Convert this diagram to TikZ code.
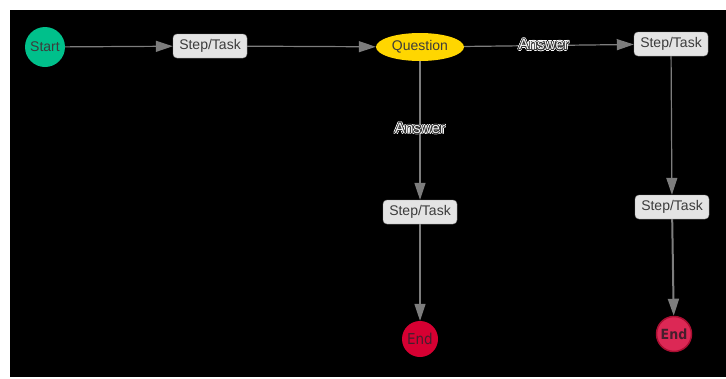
\documentclass[tikz,border=0pt]{standalone}
\usepackage{fontspec}
\setmainfont{Liberation Sans}
\newfontfamily\condfont{DejaVu Sans Condensed}
\usepackage{contour}
\usetikzlibrary{arrows.meta,shapes.geometric}

\definecolor{startgreen}{RGB}{0,192,139}
\definecolor{endred}{RGB}{214,0,50}
\definecolor{endredb}{RGB}{220,40,85}
\definecolor{endrim}{RGB}{170,15,50}
\definecolor{qgold}{RGB}{255,214,0}
\definecolor{boxfill}{RGB}{228,228,228}
\definecolor{boxline}{RGB}{150,150,150}
\definecolor{edgegray}{RGB}{125,125,125}
\definecolor{labeltext}{RGB}{60,60,60}
\definecolor{endtext}{RGB}{70,30,45}

% outlined edge label: white halo, dark rim, pale fill
\newcommand{\halolabel}[1]{%
  \makebox[0pt]{{\contourlength{1.4pt}\contour{white}{\textcolor{white}{#1}}}}%
  \makebox[0pt]{{\contourlength{0.7pt}\contour{black!80}{\textcolor{gray!12}{#1}}}}}

\tikzset{
  flowedge/.style={draw=edgegray, line width=1.2pt,
    -{Triangle[length=17pt,width=11pt]}},
  taskbox/.style={draw=boxline, fill=boxfill, rounded corners=4pt,
    minimum width=74pt, minimum height=24pt, inner sep=0pt,
    text=labeltext, font=\fontsize{14}{15}\selectfont},
  startnode/.style={circle, fill=startgreen, minimum size=40pt, inner sep=0pt,
    text=labeltext, font=\fontsize{14}{15}\selectfont},
  questionnode/.style={ellipse, fill=qgold, minimum width=88pt,
    minimum height=28pt, inner sep=0pt, text=labeltext,
    font=\fontsize{14}{15}\selectfont},
  endnode/.style={circle, fill=endred, minimum size=36pt, inner sep=0pt,
    text=endtext, font=\condfont\fontsize{15}{16}\selectfont},
  endnodebold/.style={circle, fill=endredb, draw=endrim, line width=1.5pt,
    minimum size=35pt, inner sep=0pt, text=endtext,
    font=\condfont\bfseries\fontsize{14}{15}\selectfont},
  edgelabel/.style={font=\fontsize{15}{16}\selectfont, inner sep=0pt}
}

\begin{document}
\begin{tikzpicture}[x=1pt,y=-1pt]
  \useasboundingbox (0,0) rectangle (726,378);
  \fill[white] (0,0) rectangle (726,378);
  \fill[black] (10,10) rectangle (726,377);

  % nodes
  \node[startnode]    (start) at (45,47)  {Start};
  \node[taskbox]      (t1)    at (210,46) {Step/Task};
  \node[questionnode] (q)     at (420,47) {Question};
  \node[taskbox]      (t2)    at (671,44) {Step/Task};
  \node[taskbox]      (t3)    at (420,212) {Step/Task};
  \node[taskbox]      (t4)    at (672,207) {Step/Task};
  \node[endnode]      (e1)    at (420,339) {End};
  \node[endnodebold]  (e2)    at (674,334) {End};

  % connectors
  \draw[flowedge] (start) -- (t1);
  \draw[flowedge] (t1) -- (q);
  \draw[flowedge] (q) -- node[edgelabel, pos=0.47] {\halolabel{Answer}} (t2);
  \draw[flowedge] (q) -- node[edgelabel, pos=0.49] {\halolabel{Answer}} (t3);
  \draw[flowedge] (t3) -- (e1);
  \draw[flowedge] (t2) -- (t4);
  \draw[flowedge, line width=2pt] (t4) -- (e2);
\end{tikzpicture}
\end{document}
